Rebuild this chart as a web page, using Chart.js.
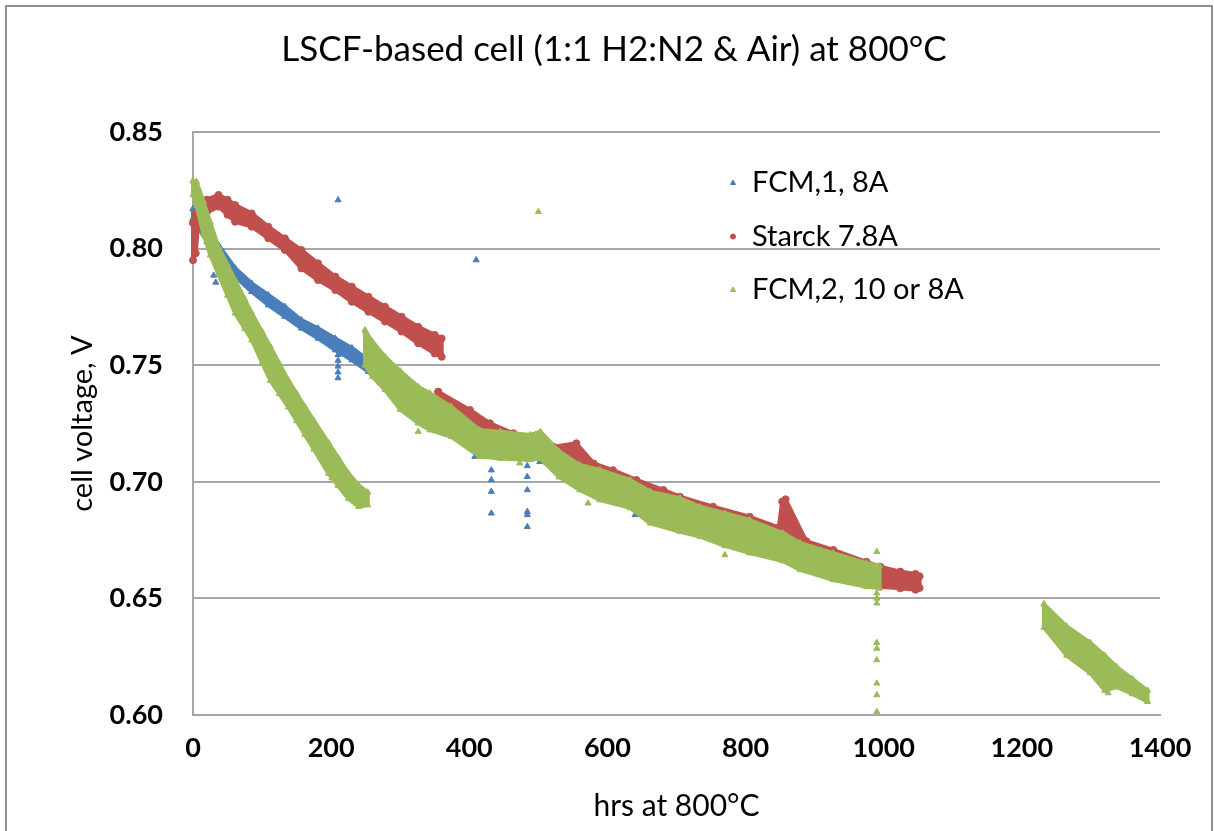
<!DOCTYPE html>
<html>
<head>
<meta charset="utf-8">
<script src="https://cdn.jsdelivr.net/npm/chart.js@4.4.1/dist/chart.umd.min.js"></script>
<style>
  html, body { margin: 0; padding: 0; background: #fff; }
  #wrap { position: relative; width: 1214px; height: 831px; overflow: hidden; }
  #frame { position: absolute; left: 5px; top: 5px; width: 1204px; height: 840px; border: 2px solid #8f8f8f; pointer-events: none; }
</style>
</head>
<body>
<div id="wrap">
  <canvas id="chart" width="1214" height="831"></canvas>
  <div id="frame"></div>
</div>
<script>
const SERIES_NAMES = ['FCM,1, 8A', 'Starck 7.8A', 'FCM,2, 10 or 8A'];
const BLUE = '#4a7ebb', RED = '#c0504d', GREEN = '#9bbb59';

// FCM,1 band (upper / lower edge of the dense point cloud)
const blueHrs = [0, 10, 20, 37, 61, 85, 109, 133, 157, 181, 206, 230, 254, 271, 290, 350, 408, 450, 500, 550, 600, 645];
const blueHi  = [0.817, 0.813, 0.808, 0.8015, 0.7916, 0.7851, 0.7801, 0.7751, 0.7694, 0.7658, 0.7615, 0.7574, 0.7522, 0.7475, 0.7424, 0.731, 0.717, 0.715, 0.713, 0.704, 0.697, 0.691];
const blueLo  = [0.813, 0.808, 0.803, 0.797, 0.788, 0.7815, 0.7758, 0.7708, 0.7658, 0.7615, 0.7565, 0.7522, 0.7472, 0.7425, 0.7381, 0.727, 0.713, 0.711, 0.710, 0.700, 0.694, 0.6875];
const blueDotHrs = [30, 33, 210, 210, 210, 210, 210, 210, 410, 408, 432, 432, 432, 432, 484, 484, 484, 484, 484, 484, 502, 640];
const blueDotV   = [0.7885, 0.7855, 0.8208, 0.7545, 0.752, 0.7495, 0.747, 0.7445, 0.7951, 0.7108, 0.705, 0.7008, 0.6958, 0.6865, 0.7068, 0.7022, 0.6965, 0.6872, 0.6858, 0.6807, 0.7086, 0.6858];

// Starck, first run and second run
const redAHrs = [0, 4, 8, 20, 37, 50, 61, 85, 109, 133, 157, 181, 206, 230, 254, 278, 302, 326, 350, 360];
const redAHi  = [0.811, 0.815, 0.8187, 0.821, 0.823, 0.821, 0.8187, 0.8151, 0.8094, 0.8044, 0.7994, 0.7937, 0.788, 0.7837, 0.7794, 0.7751, 0.7708, 0.7665, 0.763, 0.7615];
const redALo  = [0.795, 0.798, 0.8125, 0.8155, 0.818, 0.8145, 0.8115, 0.8094, 0.8044, 0.7994, 0.7915, 0.7865, 0.7822, 0.7772, 0.7729, 0.7687, 0.7644, 0.7594, 0.755, 0.7536];
const redBHrs = [355, 401, 430, 464, 488, 522, 555, 580, 608, 642, 681, 705, 753, 806, 848, 853, 858, 888, 927, 975, 995, 1024, 1046, 1052];
const redBHi  = [0.7386, 0.7308, 0.7251, 0.7208, 0.7193, 0.715, 0.7165, 0.7079, 0.705, 0.7008, 0.6965, 0.6936, 0.6893, 0.685, 0.6805, 0.6915, 0.6925, 0.6745, 0.6708, 0.6657, 0.6636, 0.6615, 0.6605, 0.6595];
const redBLo  = [0.731, 0.7235, 0.718, 0.714, 0.7125, 0.709, 0.709, 0.702, 0.699, 0.695, 0.690, 0.687, 0.683, 0.678, 0.6745, 0.6775, 0.680, 0.669, 0.665, 0.6595, 0.655, 0.6543, 0.6537, 0.6545];

// FCM,2: three runs plus scattered points
const greenAHrs = [0, 5, 15, 25, 37, 50, 61, 75, 85, 100, 112, 125, 138, 150, 162, 175, 196, 210, 225, 240, 253];
const greenAHi  = [0.829, 0.8287, 0.8204, 0.8113, 0.8006, 0.793, 0.7865, 0.7782, 0.7723, 0.7644, 0.7579, 0.7506, 0.7435, 0.7378, 0.7322, 0.7263, 0.7168, 0.7104, 0.7036, 0.6985, 0.6955];
const greenALo  = [0.823, 0.8184, 0.8065, 0.7972, 0.7889, 0.7799, 0.7723, 0.7656, 0.7608, 0.7511, 0.7434, 0.7377, 0.732, 0.7261, 0.7202, 0.7139, 0.7036, 0.6983, 0.6927, 0.6893, 0.690];
const greenBHrs = [249, 260, 278, 300, 326, 343, 374, 415, 445, 488, 503, 530, 560, 589, 633, 662, 705, 734, 770, 806, 854, 879, 927, 975, 994];
const greenBHi  = [0.765, 0.760, 0.7536, 0.7475, 0.7408, 0.738, 0.7322, 0.7222, 0.7215, 0.7201, 0.7215, 0.713, 0.7072, 0.7051, 0.7008, 0.6958, 0.693, 0.6893, 0.6865, 0.6836, 0.678, 0.6738, 0.6694, 0.6651, 0.664];
const greenBLo  = [0.750, 0.745, 0.7394, 0.731, 0.7251, 0.7222, 0.7193, 0.7108, 0.710, 0.7094, 0.710, 0.702, 0.6965, 0.6922, 0.6888, 0.6822, 0.6786, 0.6765, 0.6725, 0.6694, 0.666, 0.6622, 0.6579, 0.655, 0.6545];
const greenCHrs = [1232, 1265, 1299, 1320, 1337, 1360, 1382];
const greenCHi  = [0.6475, 0.638, 0.631, 0.6255, 0.6207, 0.6155, 0.6105];
const greenCLo  = [0.6375, 0.6255, 0.618, 0.6105, 0.612, 0.609, 0.6057];
const greenDotHrs = [500, 326, 353, 473, 572, 770, 201, 990, 990, 990, 990, 990, 990, 990, 990, 990, 990, 1325];
const greenDotV   = [0.8158, 0.7215, 0.7222, 0.708, 0.6908, 0.6686, 0.7016, 0.670, 0.6522, 0.650, 0.6479, 0.631, 0.6285, 0.6236, 0.6136, 0.6086, 0.6014, 0.6094];

const X_TICKS = [0, 200, 400, 600, 800, 1000, 1200, 1400];
const Y_TICKS = [0.60, 0.65, 0.70, 0.75, 0.80, 0.85];

function band(hrs, hi, lo, color, style, order) {
  const pts = hrs.map((h, i) => ({ x: h, y: hi[i] }));
  for (let i = hrs.length - 1; i >= 0; i--) pts.push({ x: hrs[i], y: lo[i] });
  pts.push(pts[0]);
  return {
    data: pts, showLine: true, fill: 'shape', tension: 0,
    borderColor: color, backgroundColor: color, borderWidth: 4, borderJoinStyle: 'round',
    pointStyle: style, pointRadius: 3.5, pointBackgroundColor: color, pointBorderColor: color, pointBorderWidth: 1,
    order: order, clip: 6
  };
}

function dots(hrs, vals, color, order) {
  return {
    data: hrs.map((h, i) => ({ x: h, y: vals[i] })),
    showLine: false, pointStyle: 'triangle', pointRadius: 3.5,
    backgroundColor: color, borderColor: color, borderWidth: 1, order: order, clip: 6
  };
}

const legendPlugin = {
  id: 'insideLegend',
  afterDraw(chart) {
    const { ctx, chartArea: a } = chart;
    const colors = [BLUE, RED, GREEN];
    const styles = ['triangle', 'circle', 'triangle'];
    ctx.save();
    ctx.font = '29px Lato';
    ctx.textBaseline = 'middle';
    SERIES_NAMES.forEach((name, i) => {
      const y = a.top + 51 + i * 53.5;
      ctx.fillStyle = colors[i];
      ctx.strokeStyle = colors[i];
      ctx.lineWidth = 1;
      Chart.helpers.drawPoint(ctx, { pointStyle: styles[i], radius: i === 1 ? 2.5 : 3, rotation: 0, borderWidth: 1 }, a.left + 540, y);
      ctx.fillStyle = '#000';
      ctx.fillText(name, a.left + 559, y);
    });
    ctx.restore();
  }
};

Chart.defaults.font.family = 'Lato, "Open Sans", sans-serif';
Chart.defaults.color = '#000';

new Chart(document.getElementById('chart'), {
  type: 'scatter',
  data: {
    datasets: [
      band(blueHrs, blueHi, blueLo, BLUE, 'triangle', 3),
      dots(blueDotHrs, blueDotV, BLUE, 3),
      band(redAHrs, redAHi, redALo, RED, 'circle', 2),
      band(redBHrs, redBHi, redBLo, RED, 'circle', 2),
      band(greenAHrs, greenAHi, greenALo, GREEN, 'triangle', 1),
      band(greenBHrs, greenBHi, greenBLo, GREEN, 'triangle', 1),
      band(greenCHrs, greenCHi, greenCLo, GREEN, 'triangle', 1),
      dots(greenDotHrs, greenDotV, GREEN, 0)
    ]
  },
  options: {
    responsive: false,
    animation: false,
    devicePixelRatio: 1,
    layout: { padding: { left: 68, right: 54, top: 0, bottom: 0 } },
    plugins: {
      legend: { display: false },
      tooltip: { enabled: false },
      title: {
        display: true,
        text: 'LSCF-based cell (1:1 H2:N2 & Air) at 800\u00B0C',
        font: { size: 35, weight: 'normal' },
        color: '#000',
        padding: { top: 29, bottom: 61 }
      }
    },
    scales: {
      x: {
        type: 'linear', min: 0, max: 1400,
        afterBuildTicks: s => { s.ticks = X_TICKS.map(v => ({ value: v })); },
        afterFit: s => { s.height = 116; },
        grid: { display: false, drawTicks: false },
        border: { display: true, color: '#a6a6a6', width: 2 },
        ticks: { padding: 17, font: { size: 27, weight: 'bold' }, callback: v => String(v) },
        title: { display: true, text: 'hrs at 800\u00B0C', font: { size: 30 }, padding: { top: 0, bottom: 7 } }
      },
      y: {
        type: 'linear', min: 0.6, max: 0.85,
        afterBuildTicks: s => { s.ticks = Y_TICKS.map(v => ({ value: v })); },
        afterFit: s => { s.width = 125; },
        grid: { color: '#a6a6a6', lineWidth: 2, drawTicks: false },
        border: { display: true, color: '#a6a6a6', width: 2 },
        ticks: { padding: 30, font: { size: 27, weight: 'bold' }, callback: v => v.toFixed(2) },
        title: { display: true, text: 'cell voltage, V', font: { size: 29, lineHeight: 1 }, padding: { top: 0, bottom: 0 } }
      }
    }
  },
  plugins: [legendPlugin]
});
</script>
</body>
</html>
